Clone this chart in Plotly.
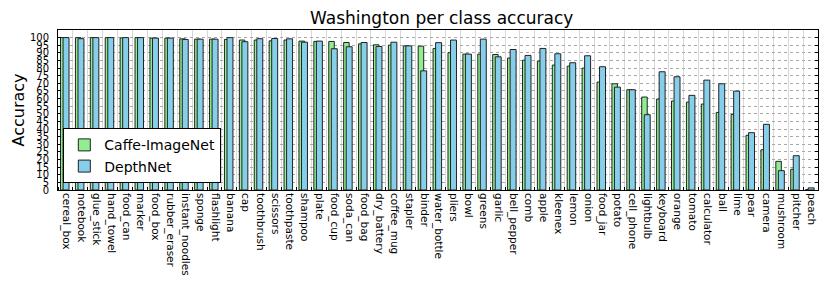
import plotly.graph_objects as go

categories = ["cereal_box", "notebook", "glue_stick", "hand_towel", "food_can", "marker",
              "food_box", "rubber_eraser", "instant_noodles", "sponge", "flashlight", "banana",
              "cap", "toothbrush", "scissors", "toothpaste", "shampoo", "plate", "food_cup",
              "soda_can", "food_bag", "dry_battery", "coffee_mug", "stapler", "binder",
              "water_bottle", "pliers", "bowl", "greens", "garlic", "bell_pepper", "comb",
              "apple", "kleenex", "lemon", "onion", "food_jar", "potato", "cell_phone",
              "lightbulb", "keyboard", "orange", "tomato", "calculator", "ball", "lime",
              "pear", "camera", "mushroom", "pitcher", "peach"]

caffe_imagenet = [100, 100, 100, 100, 99.8, 100, 99.7, 99.7, 99.2, 99.0, 99.0, 98.8,
                  98.4, 98.4, 97.9, 98.4, 97.7, 97.5, 97.5, 96.8, 95.9, 95.3, 95.1, 94.6,
                  94.4, 92.9, 90.1, 89.2, 89.2, 88.9, 86.6, 85.2, 84.6, 82.0, 81.3, 80.0,
                  70.8, 69.7, 65.8, 61.0, 59.7, 58.4, 57.7, 56.4, 50.9, 49.6, 35.9, 26.4,
                  18.8, 13.6, 0.3]

depthnet = [100, 99.3, 100, 100, 100, 100, 99.7, 99.7, 98.8, 99.0, 99.0, 100,
            97.3, 99.3, 99.4, 99.2, 97.0, 97.7, 92.7, 94.0, 96.8, 94.2, 97.0, 94.6,
            78.2, 96.7, 98.4, 89.2, 99.0, 87.4, 92.2, 88.3, 92.9, 89.4, 83.5, 88.1,
            80.9, 67.5, 65.8, 49.4, 77.6, 74.3, 62.1, 72.1, 69.7, 64.9, 37.6, 43.1,
            12.7, 22.5, 1.4]

y_ticks = list(range(0, 101, 5))

idx = list(range(len(categories)))
font = "DejaVu Sans"

# page body has an 8px margin: figure is sized/placed to compensate
W, H = 823, 289

fig = go.Figure()
fig.add_trace(go.Bar(x=idx, y=caffe_imagenet, name="Caffe-ImageNet",
                     offset=0.17, width=0.37,
                     marker=dict(color="#90ee90", line=dict(color="#222222", width=1))))
fig.add_trace(go.Bar(x=idx, y=depthnet, name="DepthNet",
                     offset=0.34, width=0.40,
                     marker=dict(color="#87ceeb", line=dict(color="#222222", width=1))))

fig.update_layout(
    width=W, height=H,
    margin=dict(l=50, r=13, t=22, b=107, autoexpand=False),
    barmode="overlay",
    paper_bgcolor="white", plot_bgcolor="white",
    font=dict(family=font, color="black"),
    title=dict(text="Washington per class accuracy", x=0.527, xanchor="center",
               y=1 - 10 / H, yanchor="middle", yref="container",
               font=dict(size=17, family=font)),
    legend=dict(x=0.007, y=0.042, xanchor="left", yanchor="bottom",
                bgcolor="white", bordercolor="black", borderwidth=1,
                font=dict(size=14, family=font), tracegroupgap=0),
    showlegend=True,
)

fig.update_xaxes(
    range=[0, len(categories)],
    automargin=False,
    tickmode="array",
    tickvals=[i + 0.56 for i in idx],
    ticktext=categories,
    tickangle=90,
    tickfont=dict(size=10.5, family=font),
    ticks="",
    ticklabelstandoff=0,
    showgrid=False,
    showline=True, linecolor="black", linewidth=1, mirror=True,
    minor=dict(tickmode="linear", tick0=0, dtick=1, showgrid=True,
               gridcolor="#d8d8d8", gridwidth=1, ticks="inside", ticklen=3,
               tickcolor="black"),
    zeroline=False,
)

fig.update_yaxes(
    range=[0, 105],
    automargin=False,
    tickmode="array",
    tickvals=y_ticks,
    ticktext=[str(v) for v in y_ticks],
    tickfont=dict(size=10, family=font),
    ticks="inside", ticklen=3, tickcolor="black",
    ticklabelstandoff=6,
    showgrid=True, gridcolor="#a8a8a8", griddash="dot", gridwidth=1,
    showline=True, linecolor="black", linewidth=1, mirror="ticks",
    zeroline=False,
    title=dict(text="Accuracy", font=dict(size=16, family=font), standoff=1),
)

fig.write_html("out.html")
